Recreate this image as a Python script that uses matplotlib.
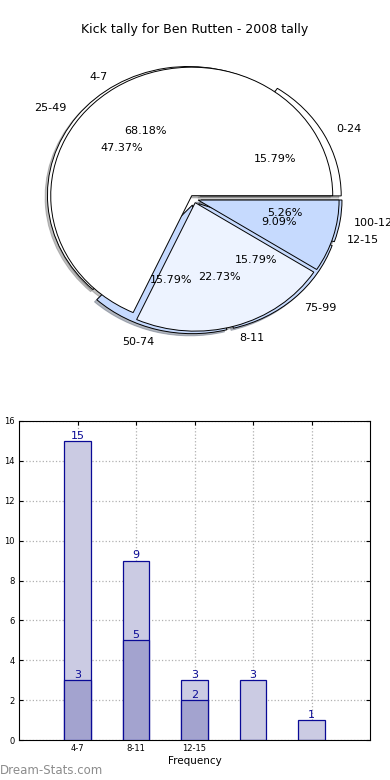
import numpy as np
import matplotlib
matplotlib.use("Agg")
import matplotlib.pyplot as plt

# pie data
kick_labels = ['4-7', '8-11', '12-15']
kick_counts = [15, 5, 2]
dist_labels = ['0-24', '25-49', '50-74', '75-99', '100-124']
dist_counts = [3, 9, 3, 3, 1]

# bar data
bar_labels = ['4-7', '8-11', '12-15', '', '']
light_vals = [15, 9, 3, 3, 1]
dark_vals = [3, 5, 2]

fig = plt.figure(figsize=(3.9, 7.8), dpi=100)

fig.text(0.5, 1 - 30 / 780, 'Kick tally for Ben Rutten - 2008 tally',
         ha='center', va='center', fontsize=9)

# pie axes, slightly elliptical like the original
ax1 = fig.add_axes([0, 1 - 380 / 780, 1, 340 / 780])
white = '#ffffff'
blue = '#c6dafe'
pale = '#edf3ff'
shadow = dict(ox=-0.012, oy=-0.012, shade=0.5)

ax1.pie(dist_counts, labels=dist_labels, autopct='%1.2f%%',
        explode=[0.05] * 5, shadow=shadow, startangle=0,
        colors=[white, white, blue, blue, blue],
        wedgeprops=dict(edgecolor='black', linewidth=0.7),
        textprops=dict(fontsize=8))
ax1.pie(kick_counts, labels=kick_labels, autopct='%1.2f%%',
        explode=[0.03] * 3, shadow=shadow, startangle=0,
        colors=[white, pale, blue],
        wedgeprops=dict(edgecolor='black', linewidth=0.7),
        textprops=dict(fontsize=8))
ax1.set_aspect('auto')
ax1.set_xlim(-1.376, 1.390)
ax1.set_ylim(-1.409, 1.237)
ax1.axis('off')

# bar chart
ax2 = fig.add_axes([19 / 390, 40 / 780, 351 / 390, 319 / 780])
x = np.arange(len(light_vals))
edge = '#0a0a96'
ax2.bar(x, light_vals, width=0.45, color='#cbcbe3', edgecolor=edge,
        linewidth=0.9, zorder=2)
ax2.bar(x[:len(dark_vals)], dark_vals, width=0.45, color='#a3a3cf',
        edgecolor=edge, linewidth=0.9, zorder=3)
for xi, v in zip(x, light_vals):
    ax2.text(xi, v + 0.02, str(v), ha='center', va='bottom',
             color=edge, fontsize=8, zorder=4)
for xi, v in zip(x, dark_vals):
    ax2.text(xi, v + 0.02, str(v), ha='center', va='bottom',
             color=edge, fontsize=8, zorder=4)

ax2.set_xlim(-1, 5)
ax2.set_ylim(0, 16)
ax2.set_xticks(x)
ax2.set_xticklabels(bar_labels)
ax2.set_yticks(range(0, 17, 2))
ax2.tick_params(direction='in', top=True, right=True, labelsize=6,
                length=3, pad=3)
ax2.grid(True, color='#b0b0b0', linestyle=':', linewidth=0.9, zorder=0)
ax2.set_axisbelow(True)
ax2.set_xlabel('Frequency', fontsize=7.5, labelpad=2)

fig.text(0.0, 1 - 771 / 780, 'Dream-Stats.com', ha='left', va='center',
         fontsize=8.5, color='#8c8c8c')

plt.savefig('out.png', dpi=100)
